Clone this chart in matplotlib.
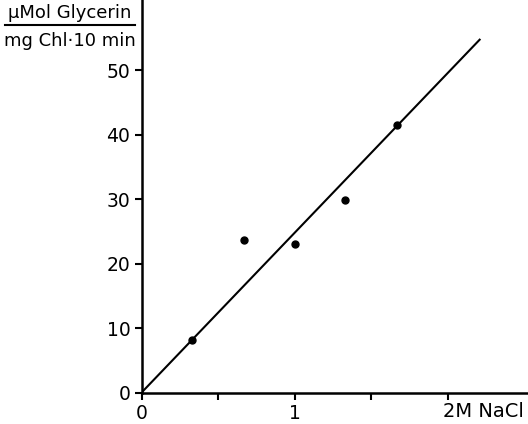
import matplotlib.pyplot as plt
from matplotlib.lines import Line2D

# NaCl concentration (M) and glycerol production
nacl = [0.33, 0.67, 1.0, 1.33, 1.67]
glycerin = [8.1, 23.6, 23.1, 29.9, 41.4]

# fitted line through origin
fit_x = [0, 2.21]
fit_y = [0, 54.7]

y_ticks = [0, 10, 20, 30, 40, 50]
x_ticks = [0, 0.5, 1, 1.5, 2]
x_labels = ["0", "", "1", "", ""]

plt.rcParams["font.family"] = ["DejaVu Sans"]

fig = plt.figure(figsize=(5.28, 4.24), dpi=100)
ax = fig.add_axes([0.268, 0.074, 0.732, 0.926])

ax.plot(fit_x, fit_y, color="black", lw=1.5)
ax.plot(nacl, glycerin, "o", color="black", ms=5)

ax.set_xlim(0, 2.526)
ax.set_ylim(0, 60.85)
ax.spines["top"].set_visible(False)
ax.spines["right"].set_visible(False)
for s in ("left", "bottom"):
    ax.spines[s].set_linewidth(1.8)

ax.set_yticks(y_ticks)
ax.set_xticks(x_ticks)
ax.set_xticklabels(x_labels)
ax.tick_params(axis="both", width=1.5, length=5, labelsize=13.5, pad=3)

ax.annotate("2M NaCl", xy=(2, 0), xycoords="data", xytext=(-3.5, -7),
            textcoords="offset points", ha="left", va="top", fontsize=14)

# y axis unit as a fraction
fig.text(0.132, 0.969, "μMol Glycerin", ha="center", va="center", fontsize=13)
fig.text(0.132, 0.903, "mg Chl·10 min", ha="center", va="center", fontsize=13)
fig.add_artist(Line2D([0.01, 0.256], [0.941, 0.941], color="black", lw=1.5,
                      transform=fig.transFigure))

fig.savefig("out.png", dpi=100)
